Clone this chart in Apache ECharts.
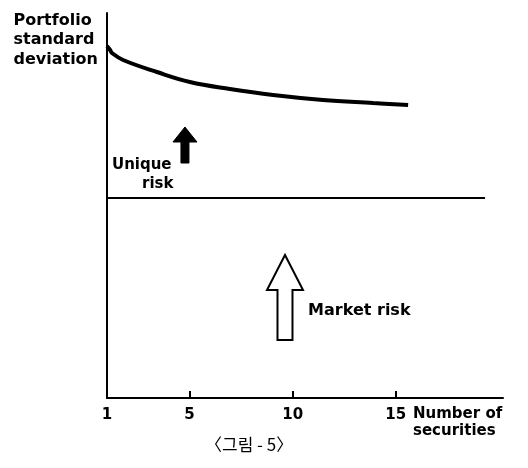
<!DOCTYPE html>
<html>
<head>
<meta charset="utf-8">
<script src="https://cdn.jsdelivr.net/npm/echarts@6/dist/echarts.min.js"></script>
<style>
  html, body { margin:0; padding:0; background:#fff; }
  #chart { width:528px; height:468px; }
</style>
</head>
<body>
<div id="chart"></div>
<script>
// 证券数量 / 组合标准差
var secCount = [1, 1.15, 1.24, 1.78, 3.42, 5.02, 6.96, 9.05, 11.47, 13.9, 15.6]
var portfolioSd = [17.6, 17.4, 17.25, 16.9, 16.3, 15.8, 15.45, 15.15, 14.9, 14.75, 14.65]
// 市场风险水平线
var marketX = [1, 19.33]
var marketRisk = [10, 10]
var xTicks = [1, 5, 10, 15]
// 箭头: x, 底, 箭头根部, 顶, 空心
var arrowX = [4.78, 9.63]
var arrowBase = [11.75, 2.9]
var arrowHead = [12.8, 5.4]
var arrowTip = [13.55, 7.15]
var arrowHollow = [0, 1]
// 注释文字
var noteText = ['Unique', 'risk', 'Market risk']
var noteX = [1.24, 2.7, 10.75]
var noteY = [11.65, 10.7, 4.35]

var font = 'DejaVu Sans'
var myChart = echarts.init(document.getElementById('chart'))

var option = {
  animation: false,
  backgroundColor: '#fff',
  grid: { left: 107, right: 25, top: 13, bottom: 70 },
  xAxis: {
    type: 'value',
    min: 1,
    max: 20.2,
    axisLine: { lineStyle: { color: '#000', width: 2 } },
    axisTick: { show: true, inside: true, length: 7, customValues: [5, 10, 15], lineStyle: { color: '#000', width: 2 } },
    axisLabel: { customValues: xTicks, margin: 10, color: '#000', fontFamily: font, fontWeight: 'bold', fontSize: 15 },
    splitLine: { show: false }
  },
  yAxis: {
    type: 'value',
    min: 0,
    max: 19.25,
    axisLine: { show: true, lineStyle: { color: '#000', width: 2 } },
    axisTick: { show: false },
    axisLabel: { show: false },
    splitLine: { show: false }
  },
  graphic: [
    { type: 'text', right: 430, top: 11, style: { text: 'Portfolio\nstandard\ndeviation', align: 'right', lineHeight: 19.5, fill: '#000', fontFamily: font, fontWeight: 'bold', fontSize: 16 } },
    { type: 'text', left: 413, top: 406, style: { text: 'Number of\nsecurities', lineHeight: 17, fill: '#000', fontFamily: font, fontWeight: 'bold', fontSize: 15 } },
    { type: 'text', left: 205, top: 436, style: { text: '〈그림 - 5〉', fill: '#000', fontFamily: 'Noto Sans CJK KR', fontSize: 17 } }
  ],
  series: [{
    name: 'portfolio',
    type: 'line',
    smooth: 0.4,
    symbol: 'none',
    lineStyle: { color: '#000', width: 4 },
    data: secCount.map(function (x, i) { return [x, portfolioSd[i]] })
  }, {
    name: 'market',
    type: 'line',
    symbol: 'none',
    lineStyle: { color: '#000', width: 2 },
    data: marketX.map(function (x, i) { return [x, marketRisk[i]] })
  }, {
    name: 'arrows',
    type: 'custom',
    renderItem: function (params, api) {
      var x = api.value(0)
      var b = api.coord([x, api.value(1)])
      var h = api.coord([x, api.value(2)])
      var t = api.coord([x, api.value(3)])
      var hollow = api.value(4) === 1
      var sw = hollow ? 7.5 : 4
      var hw = hollow ? 18 : 12
      return {
        type: 'polygon',
        shape: { points: [
          [b[0] - sw, b[1]], [b[0] - sw, h[1]], [b[0] - hw, h[1]], [t[0], t[1]],
          [b[0] + hw, h[1]], [b[0] + sw, h[1]], [b[0] + sw, b[1]]
        ] },
        style: { fill: hollow ? '#fff' : '#000', stroke: '#000', lineWidth: hollow ? 2 : 1 }
      }
    },
    data: arrowX.map(function (x, i) { return [x, arrowBase[i], arrowHead[i], arrowTip[i], arrowHollow[i]] })
  }, {
    name: 'notes',
    type: 'custom',
    renderItem: function (params, api) {
      var p = api.coord([api.value(0), api.value(1)])
      return {
        type: 'text',
        x: p[0],
        y: p[1],
        style: {
          text: noteText[params.dataIndex], fill: '#000', fontFamily: font, fontWeight: 'bold',
          fontSize: params.dataIndex === 2 ? 16 : 15, verticalAlign: 'middle', align: 'left'
        }
      }
    },
    data: noteX.map(function (x, i) { return [x, noteY[i]] })
  }]
}
myChart.setOption(option)
</script>
</body>
</html>
